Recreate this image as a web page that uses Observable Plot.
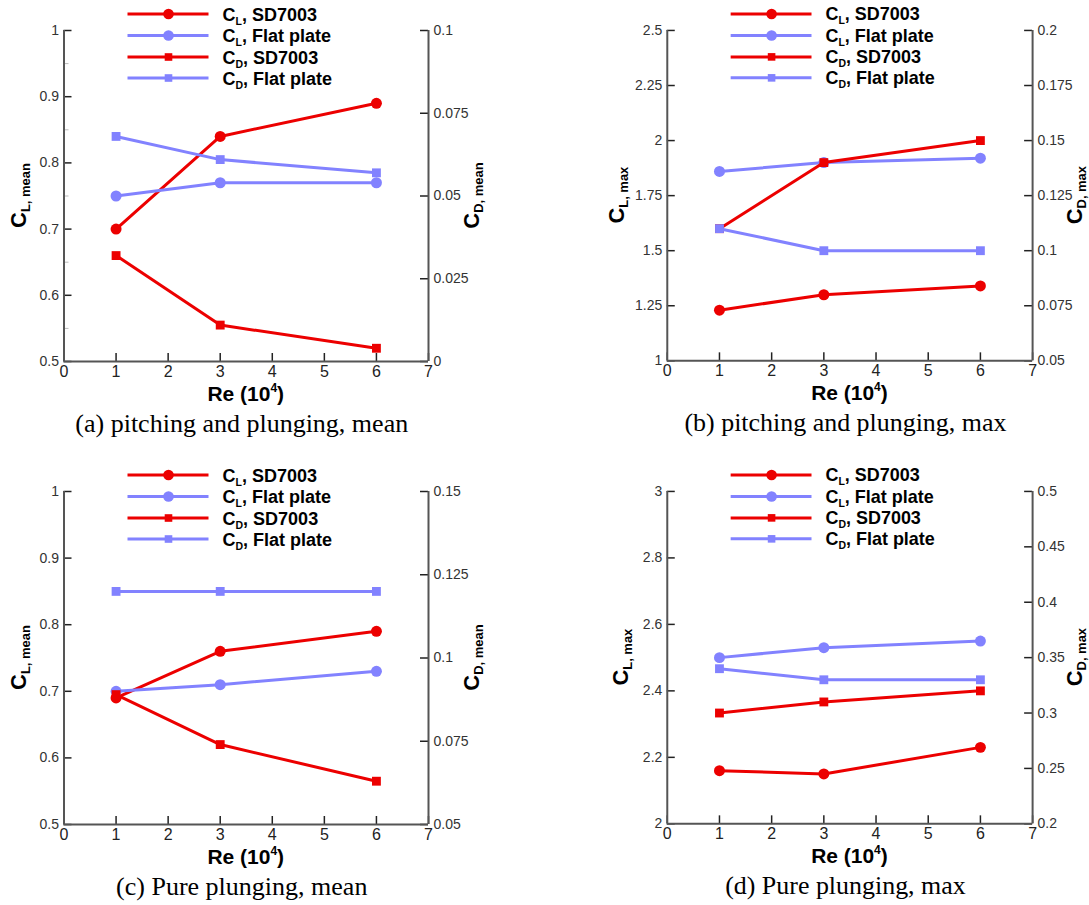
<!DOCTYPE html>
<html><head><meta charset="utf-8">
<script src="https://cdn.jsdelivr.net/npm/d3@7"></script>
<script src="https://cdn.jsdelivr.net/npm/@observablehq/plot@0.6"></script>
<style>
html,body{margin:0;padding:0;background:#fff;overflow:hidden;}
#root{position:relative;width:1089px;height:905px;}
.panel{position:absolute;}
.panel svg{overflow:visible;}
</style></head><body><div id="root"></div>
<script>
// ---------- data ----------
const reynolds = [1, 3, 6];
const xTicks = [0, 1, 2, 3, 4, 5, 6, 7];

const legendSub = ["L", "L", "D", "D"];
const legendRest = [", SD7003", ", Flat plate", ", SD7003", ", Flat plate"];
const seriesColors = ["#ec0000", "#8282ff", "#ec0000", "#8282ff"];
const seriesSymbols = ["circle", "circle", "square", "square"];

// (a) pitching and plunging, mean
const aClSD = [0.70, 0.84, 0.89];
const aClFlat = [0.75, 0.77, 0.77];
const aCdSD = [0.032, 0.011, 0.004];
const aCdFlat = [0.068, 0.061, 0.057];
const aLeftTicks = [0.5, 0.6, 0.7, 0.8, 0.9, 1];
const aLeftMinor = [0.55, 0.65, 0.75, 0.85, 0.95];
const aRightTicks = [0, 0.025, 0.05, 0.075, 0.1];

// (b) pitching and plunging, max
const bClSD = [1.23, 1.30, 1.34];
const bClFlat = [1.86, 1.90, 1.92];
const bCdSD = [0.110, 0.140, 0.150];
const bCdFlat = [0.110, 0.100, 0.100];
const bLeftTicks = [1, 1.25, 1.5, 1.75, 2, 2.25, 2.5];
const bRightTicks = [0.05, 0.075, 0.1, 0.125, 0.15, 0.175, 0.2];

// (c) Pure plunging, mean
const cClSD = [0.69, 0.76, 0.79];
const cClFlat = [0.70, 0.71, 0.73];
const cCdSD = [0.089, 0.074, 0.063];
const cCdFlat = [0.12, 0.12, 0.12];
const cLeftTicks = [0.5, 0.6, 0.7, 0.8, 0.9, 1];
const cRightTicks = [0.05, 0.075, 0.1, 0.125, 0.15];

// (d) Pure plunging, max
const dClSD = [2.16, 2.15, 2.23];
const dClFlat = [2.50, 2.53, 2.55];
const dCdSD = [0.30, 0.31, 0.32];
const dCdFlat = [0.34, 0.33, 0.33];
const dLeftTicks = [2, 2.2, 2.4, 2.6, 2.8, 3];
const dRightTicks = [0.2, 0.25, 0.3, 0.35, 0.4, 0.45, 0.5];

const captions = ["(a) pitching and plunging, mean", "(b) pitching and plunging, max",
                  "(c) Pure plunging, mean", "(d) Pure plunging, max"];

// ---------- layout ----------
const panels = [
  {left: 0, top: 0, fx0: 63.5, fx1: 428, fy0: 30, fy1: 361, ld: [0.5, 1], rd: [0, 0.1],
   lt: aLeftTicks, lm: aLeftMinor, rt: aRightTicks, vals: [aClSD, aClFlat, aCdSD, aCdFlat],
   kind: "mean", cap: captions[0], ltOff: -37.5, rtOff: 50.5},
  {left: 545, top: 0, fx0: 667, fx1: 1033, fy0: 30, fy1: 361, ld: [1, 2.5], rd: [0.05, 0.2],
   lt: bLeftTicks, lm: [], rt: bRightTicks, vals: [bClSD, bClFlat, bCdSD, bCdFlat],
   kind: "max", cap: captions[1], ltOff: -42.5, rtOff: 50},
  {left: 0, top: 455, fx0: 63.5, fx1: 428, fy0: 491, fy1: 824, ld: [0.5, 1], rd: [0.05, 0.15],
   lt: cLeftTicks, lm: [], rt: cRightTicks, vals: [cClSD, cClFlat, cCdSD, cCdFlat],
   kind: "mean", cap: captions[2], ltOff: -37.5, rtOff: 50.5},
  {left: 545, top: 455, fx0: 667, fx1: 1033, fy0: 491, fy1: 824, ld: [2, 3], rd: [0.2, 0.5],
   lt: dLeftTicks, lm: [], rt: dRightTicks, vals: [dClSD, dClFlat, dCdSD, dCdFlat],
   kind: "max", cap: captions[3], ltOff: -39, rtOff: 50}
];

const FONT = "'Liberation Sans', Arial, Helvetica, sans-serif";
const axisColor = "#555";
const tickColor = "#222";
const fmt = v => String(+(+v).toFixed(4));

function buildPanel(p) {
  const W = 545;
  const fw = p.fx1 - p.fx0, fh = p.fy1 - p.fy0;
  const ml = p.fx0 - p.left, mr = p.left + W - p.fx1, mt = p.fy0 - p.top;
  const H = Math.round(p.fy1 - p.top + 82);
  const mb = H - (p.fy1 - p.top);
  const [l0, l1] = p.ld, [r0, r1] = p.rd;
  const toLeft = v => l0 + (v - r0) * (l1 - l0) / (r1 - r0);
  const toRight = v => r0 + (v - l0) * (r1 - r0) / (l1 - l0);

  const seriesMarks = [];
  p.vals.forEach((vals, i) => {
    const isRight = i >= 2;
    const ys = vals.map(v => isRight ? toLeft(v) : v);
    seriesMarks.push(Plot.line(reynolds, {x: reynolds, y: ys, stroke: seriesColors[i], strokeWidth: 3}));
    seriesMarks.push(Plot.dot(reynolds, {x: reynolds, y: ys, fill: seriesColors[i], stroke: "none",
      symbol: seriesSymbols[i], r: seriesSymbols[i] === "circle" ? 5.5 : 5.0}));
  });

  const chart = Plot.plot({
    width: W, height: H,
    marginLeft: ml, marginRight: mr, marginTop: mt, marginBottom: mb,
    style: {fontFamily: FONT, fontSize: "14px", color: "#333", background: "transparent", overflow: "visible"},
    x: {domain: [0, 7], axis: null, label: null},
    y: {domain: [l0, l1], axis: null, label: null},
    marks: [
      Plot.tickY(p.lm, {y: d => d, insetRight: fw - 5, stroke: "#bbb", strokeWidth: 1}),
      Plot.tickY(p.lt, {y: d => d, insetRight: fw - 8, stroke: tickColor, strokeWidth: 1.5}),
      Plot.tickY(p.rt.map(toLeft), {y: d => d, insetLeft: fw - 8, stroke: tickColor, strokeWidth: 1.5}),
      Plot.tickX(xTicks, {x: d => d, insetTop: fh - 8, stroke: tickColor, strokeWidth: 1.5}),
      Plot.ruleX([0], {stroke: axisColor, strokeWidth: 2}),
      Plot.ruleX([7], {stroke: axisColor, strokeWidth: 2}),
      Plot.ruleY([l0], {stroke: axisColor, strokeWidth: 2}),
      Plot.axisY(p.lt, {anchor: "left", tickSize: 0, tickPadding: 5, tickFormat: fmt, label: null,
        fontSize: 14, fill: "#333"}),
      Plot.axisY(p.rt.map(toLeft), {anchor: "right", tickSize: 0, tickPadding: 5,
        tickFormat: d => fmt(toRight(d)), label: null, fontSize: 14, fill: "#333"}),
      Plot.axisX(xTicks, {anchor: "bottom", tickSize: 0, tickPadding: 4, tickFormat: fmt, label: null,
        fontSize: 16, fill: "#222"}),
      ...seriesMarks
    ]
  });

  const svg = d3.select(chart);
  const fx0 = ml, fx1 = W - mr, fy0 = mt, fy1 = H - mb;
  const fcx = (fx0 + fx1) / 2, fcy = (fy0 + fy1) / 2;

  // y-axis titles
  const yTitle = (x, sub) => {
    const t = svg.append("text")
      .attr("transform", `translate(${x},${fcy}) rotate(-90)`)
      .attr("text-anchor", "middle")
      .attr("font-family", FONT).attr("font-weight", "bold").attr("fill", "#000");
    t.append("tspan").attr("font-size", 22).text("C");
    t.append("tspan").attr("font-size", 13).attr("dy", 4).text(sub);
  };
  yTitle(fx0 + p.ltOff, "L, " + p.kind);
  yTitle(fx1 + p.rtOff, "D, " + p.kind);

  // x-axis title
  const xt = svg.append("text").attr("x", fcx).attr("y", fy1 + 40)
    .attr("text-anchor", "middle").attr("font-family", FONT).attr("font-weight", "bold")
    .attr("font-size", 21).attr("fill", "#000");
  xt.append("tspan").text("Re (10");
  xt.append("tspan").attr("font-size", 12).attr("dy", -9).text("4");
  xt.append("tspan").attr("dy", 9).text(")");

  // caption
  svg.append("text").attr("x", fcx - 4).attr("y", fy1 + 71)
    .attr("text-anchor", "middle").attr("font-family", "'Liberation Serif', 'Times New Roman', serif")
    .attr("font-size", 26).attr("fill", "#000").text(p.cap);

  // legend
  const rowY = [-16, 5.5, 27, 48];
  const lx0 = fx0 + 64, lx1 = fx0 + 145, lmx = fx0 + 105, ltx = fx0 + 159;
  rowY.forEach((dy, i) => {
    const y = fy0 + dy;
    const g = svg.append("g");
    g.append("line").attr("x1", lx0).attr("x2", lx1).attr("y1", y).attr("y2", y)
      .attr("stroke", seriesColors[i]).attr("stroke-width", 3);
    if (seriesSymbols[i] === "circle") {
      g.append("circle").attr("cx", lmx).attr("cy", y).attr("r", 5.3).attr("fill", seriesColors[i]);
    } else {
      g.append("rect").attr("x", lmx - 3.8).attr("y", y - 3.8).attr("width", 7.6).attr("height", 7.6)
        .attr("fill", seriesColors[i]);
    }
    const t = g.append("text").attr("x", ltx).attr("y", y + 6.5).attr("text-anchor", "start")
      .attr("font-family", FONT).attr("font-weight", "bold").attr("font-size", 18).attr("fill", "#000");
    t.append("tspan").text("C");
    t.append("tspan").attr("font-size", 10.5).attr("dy", 4).text(legendSub[i]);
    t.append("tspan").attr("dy", -4).text(legendRest[i]);
  });

  const div = document.createElement("div");
  div.className = "panel";
  div.style.left = p.left + "px";
  div.style.top = p.top + "px";
  div.appendChild(chart);
  document.getElementById("root").appendChild(div);
}

panels.forEach(buildPanel);
</script>
</body></html>
